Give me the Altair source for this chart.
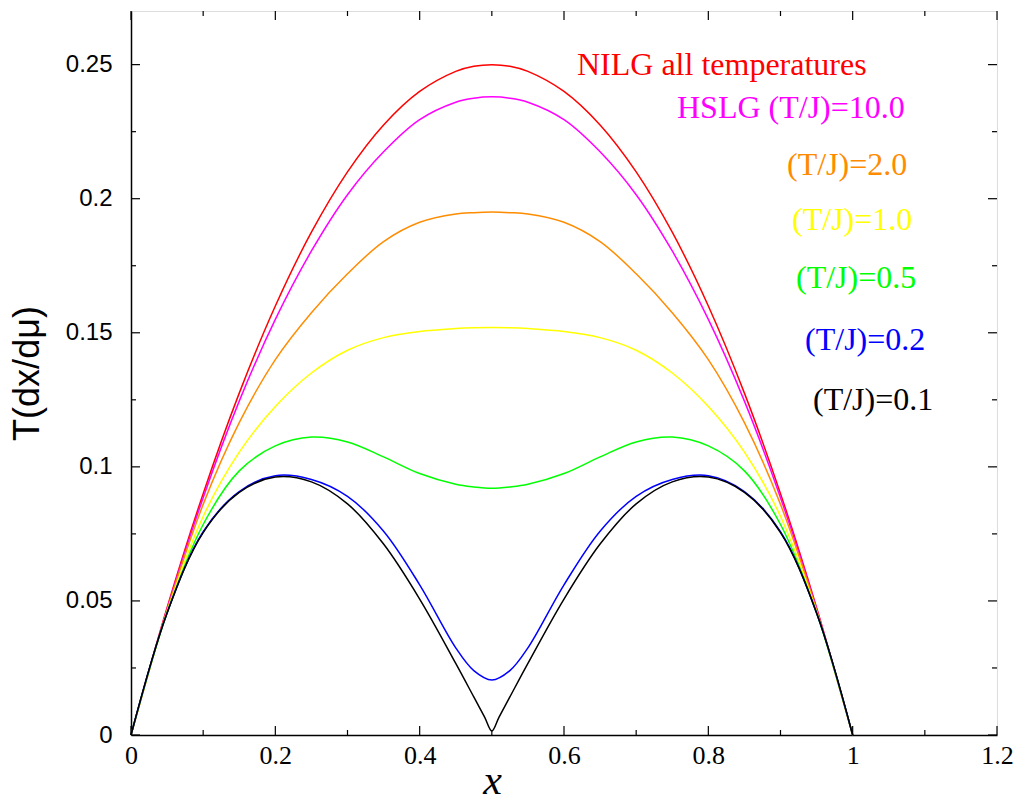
import altair as alt
import pandas as pd

# ---- data ----
X = [0, 0.05, 0.1, 0.15, 0.2, 0.25, 0.3, 0.35, 0.4, 0.45, 0.475, 0.5,
     0.525, 0.55, 0.6, 0.65, 0.7, 0.75, 0.8, 0.85, 0.9, 0.95, 1.0]

nilg = [0, 0.0475, 0.09, 0.1275, 0.16, 0.1875, 0.21, 0.2275, 0.24, 0.2475, 0.2494, 0.25,
        0.2494, 0.2475, 0.24, 0.2275, 0.21, 0.1875, 0.16, 0.1275, 0.09, 0.0475, 0]
t10 = [0, 0.047, 0.0885, 0.1245, 0.155, 0.1805, 0.2015, 0.2175, 0.2295, 0.236, 0.2375, 0.238,
       0.2375, 0.236, 0.2295, 0.2175, 0.2015, 0.1805, 0.155, 0.1245, 0.0885, 0.047, 0]
t2 = [0, 0.0465, 0.086, 0.1165, 0.14, 0.1575, 0.172, 0.184, 0.1912, 0.1943, 0.1948, 0.195,
      0.1948, 0.1943, 0.1912, 0.184, 0.172, 0.1575, 0.14, 0.1165, 0.086, 0.0465, 0]
t1 = [0, 0.046, 0.0815, 0.1055, 0.1225, 0.135, 0.1435, 0.1482, 0.1505, 0.1516, 0.1519, 0.152,
      0.1519, 0.1516, 0.1505, 0.1482, 0.1435, 0.135, 0.1225, 0.1055, 0.0815, 0.046, 0]
t05 = [0, 0.0455, 0.0785, 0.0985, 0.1078, 0.1111, 0.1093, 0.1037, 0.0975, 0.0935, 0.0925, 0.092,
       0.0925, 0.0935, 0.0975, 0.1037, 0.1093, 0.1111, 0.1078, 0.0985, 0.0785, 0.0455, 0]
t02 = [0, 0.0455, 0.0758, 0.0908, 0.0967, 0.0953, 0.089, 0.076, 0.056, 0.0325, 0.024, 0.0205,
       0.024, 0.0325, 0.056, 0.076, 0.089, 0.0953, 0.0967, 0.0908, 0.0758, 0.0455, 0]

X_01 = [0, 0.05, 0.1, 0.15, 0.2, 0.25, 0.3, 0.35, 0.4, 0.45, 0.475, 0.49, 0.5, 0.51,
        0.525, 0.55, 0.6, 0.65, 0.7, 0.75, 0.8, 0.85, 0.9, 0.95, 1.0]
t01 = [0, 0.0455, 0.0755, 0.0905, 0.0962, 0.0944, 0.0862, 0.0712, 0.0507, 0.0267, 0.0142, 0.0067, 0.0015,
       0.0067, 0.0142, 0.0267, 0.0507, 0.0712, 0.0862, 0.0944, 0.0962, 0.0905, 0.0755, 0.0455, 0]

series = [
    ("NILG", X, nilg, "#ff0000"),
    ("T10", X, t10, "#ff00ff"),
    ("T2", X, t2, "#ff8c00"),
    ("T1", X, t1, "#ffff00"),
    ("T05", X, t05, "#00ff00"),
    ("T02", X, t02, "#0000ff"),
    ("T01", X_01, t01, "#000000"),
]

label_text = ["NILG all temperatures", "HSLG (T/J)=10.0", "(T/J)=2.0", "(T/J)=1.0",
              "(T/J)=0.5", "(T/J)=0.2", "(T/J)=0.1"]
label_x = [0.618, 0.7566, 0.909, 0.916, 0.9215, 0.934, 0.945]
label_y = [0.246, 0.230, 0.2087, 0.1882, 0.1666, 0.1435, 0.1211]
label_color = ["#ff0000", "#ff00ff", "#ff8c00", "#ffff00", "#00ff00", "#0000ff", "#000000"]

x_major = [0, 0.2, 0.4, 0.6, 0.8, 1.0, 1.2]
x_minor = [0.1, 0.3, 0.5, 0.7, 0.9, 1.1]
y_major = [0, 0.05, 0.1, 0.15, 0.2, 0.25]
y_minor = [0.025, 0.075, 0.125, 0.175, 0.225]

W, H = 866, 724
xscale = alt.Scale(domain=[0, 1.2], nice=False, zero=False)
yscale = alt.Scale(domain=[0, 0.27], nice=False, zero=False)

xaxis = alt.Axis(values=x_major, format="~g", ticks=False, grid=False, domain=True,
                 domainColor="black", domainWidth=1.5, labelFlush=False,
                 labelFont="Liberation Serif", labelFontSize=26, labelColor="black",
                 labelPadding=7, title="x", titleFont="Liberation Serif", titleFontSize=42,
                 titleFontStyle="italic", titleFontWeight="normal", titleColor="black",
                 titleX=361, titleY=58, titleBaseline="alphabetic", titleAlign="center")
yaxis = alt.Axis(values=y_major, format="~g", ticks=False, grid=False, domain=True,
                 domainColor="black", domainWidth=1.5, labelFlush=False,
                 labelFont="Liberation Sans", labelFontSize=24, labelColor="black",
                 labelPadding=19, title="T(dx/dμ)", titleFont="Liberation Sans",
                 titleFontSize=36, titleFontWeight="normal", titleColor="black",
                 titleX=-104, titleY=362, titleAngle=270, titleBaseline="middle",
                 titleAlign="center")

layers = []
for name, xs, ys, col in series:
    df = pd.DataFrame({"x": xs, "y": ys})
    layers.append(alt.Chart(df).mark_line(color=col, strokeWidth=1.5,
                                          interpolate="catmull-rom").encode(
        x=alt.X("x:Q", scale=xscale, axis=xaxis),
        y=alt.Y("y:Q", scale=yscale, axis=yaxis)))

labels = pd.DataFrame({"x": label_x, "y": label_y, "t": label_text, "c": label_color})
layers.append(alt.Chart(labels).mark_text(align="left", baseline="alphabetic",
                                          font="Liberation Serif", fontSize=32).encode(
    x=alt.X("x:Q", scale=xscale, axis=xaxis),
    y=alt.Y("y:Q", scale=yscale, axis=yaxis),
    text="t:N",
    color=alt.Color("c:N", scale=None)))


def xticks(vals, length):
    d = pd.DataFrame({"x": vals})
    bot = alt.Chart(d).mark_rule(color="black", strokeWidth=1.2).encode(
        x=alt.X("x:Q", scale=xscale, axis=xaxis), y=alt.value(H), y2=alt.value(H - length))
    top = alt.Chart(d).mark_rule(color="black", strokeWidth=1.2).encode(
        x=alt.X("x:Q", scale=xscale, axis=xaxis), y=alt.value(0), y2=alt.value(length))
    return [bot, top]


def yticks(vals, length):
    d = pd.DataFrame({"y": vals})
    left = alt.Chart(d).mark_rule(color="black", strokeWidth=1.2).encode(
        y=alt.Y("y:Q", scale=yscale, axis=yaxis), x=alt.value(0), x2=alt.value(length))
    right = alt.Chart(d).mark_rule(color="black", strokeWidth=1.2).encode(
        y=alt.Y("y:Q", scale=yscale, axis=yaxis), x=alt.value(W), x2=alt.value(W - length))
    return [left, right]


layers += xticks(x_major, 9) + xticks(x_minor, 5) + yticks(y_major, 9) + yticks(y_minor, 5)

chart = alt.layer(*layers).properties(
    width=W, height=H,
    padding={"left": 131, "top": 11, "right": 21, "bottom": 69},
    autosize=alt.AutoSizeParams(type="none"),
).configure_view(stroke="#333333", strokeWidth=1.2).configure(background="white")

chart.save("out.html", embed_options={"renderer": "svg", "actions": False})
